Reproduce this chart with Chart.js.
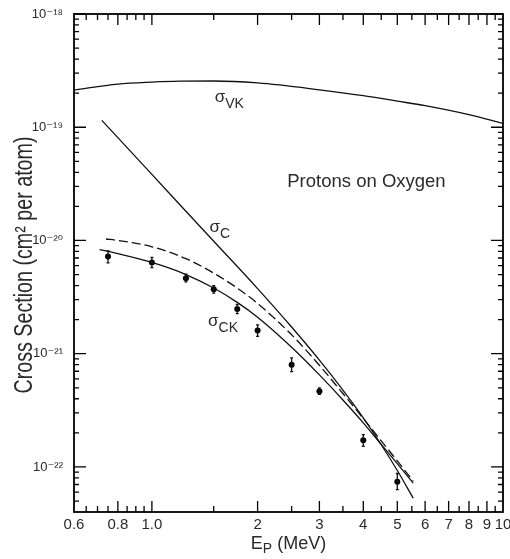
<!DOCTYPE html>
<html><head><meta charset="utf-8">
<script src="https://cdn.jsdelivr.net/npm/chart.js@4.4.0/dist/chart.umd.min.js"></script>
<style>html,body{margin:0;padding:0;background:#fff;}canvas{display:block;}</style>
</head><body>
<canvas id="c" width="510" height="559"></canvas>
<script>
// ---- data ----
const vkE     = [0.6, 0.8, 1.0, 1.2, 1.5, 2.0, 3.0, 4.0, 5.0, 6.0, 8.0, 10];
const vkSigma = [2.13e-19, 2.40e-19, 2.50e-19, 2.55e-19, 2.56e-19, 2.46e-19, 2.14e-19, 1.90e-19, 1.70e-19, 1.55e-19, 1.29e-19, 1.08e-19];

const cE      = [0.72, 0.8, 1.0, 1.25, 1.5, 2.0, 2.5, 3.0, 3.5, 4.0, 4.5, 5.0, 5.55];
const cSigma  = [1.15e-19, 8.09e-20, 3.83e-20, 1.81e-20, 9.84e-21, 3.76e-21, 1.72e-21, 8.77e-22, 4.77e-22, 2.71e-22, 1.57e-22, 9.3e-23, 5.3e-23];

const dashE     = [0.74, 0.8, 1.0, 1.25, 1.5, 1.75, 2.0, 2.5, 3.0, 3.5, 4.0, 4.5, 5.0, 5.55];
const dashSigma = [1.03e-20, 1.0e-20, 8.8e-21, 6.9e-21, 5.15e-21, 3.8e-21, 2.78e-21, 1.47e-21, 7.9e-22, 4.45e-22, 2.68e-22, 1.70e-22, 1.13e-22, 7.5e-23];

const ckE     = [0.71, 0.8, 1.0, 1.25, 1.5, 1.75, 2.0, 2.5, 3.0, 3.5, 4.0, 4.5, 5.0, 5.55];
const ckSigma = [8.3e-21, 7.64e-21, 6.39e-21, 5.0e-21, 3.8e-21, 2.84e-21, 2.1e-21, 1.14e-21, 6.5e-22, 3.9e-22, 2.45e-22, 1.58e-22, 1.07e-22, 7.2e-23];

const expE     = [0.75, 1.0, 1.25, 1.5, 1.75, 2.0, 2.5, 3.0, 4.0, 5.0];
const expSigma = [7.2e-21, 6.4e-21, 4.65e-21, 3.7e-21, 2.48e-21, 1.6e-21, 8.0e-22, 4.65e-22, 1.72e-22, 7.4e-23];
const expLow   = [6.35e-21, 5.75e-21, 4.3e-21, 3.43e-21, 2.26e-21, 1.42e-21, 6.95e-22, 4.37e-22, 1.52e-22, 6.3e-23];
const expHigh  = [8.1e-21, 7.1e-21, 5.05e-21, 4.0e-21, 2.72e-21, 1.8e-21, 9.2e-22, 5.0e-22, 1.93e-22, 8.75e-23];

const xLabelValues = [0.6, 0.8, 1.0, 2, 3, 4, 5, 6, 7, 8, 9, 10];
const xLabels      = ['0.6', '0.8', '1.0', '2', '3', '4', '5', '6', '7', '8', '9', '10'];
const xMajorTicks  = [0.8, 1.0, 2, 3, 4, 5, 6, 7, 8, 9];
const xMinorTicks  = [0.65, 0.7, 0.75, 0.85, 0.9, 0.95, 1.5, 2.5, 3.5, 4.5, 5.5, 6.5, 7.5, 8.5, 9.5];
const yLabelValues = [1e-22, 1e-21, 1e-20, 1e-19, 1e-18];
const yLabels      = ['10\u207B\u00B2\u00B2', '10\u207B\u00B2\u00B9', '10\u207B\u00B2\u2070', '10\u207B\u00B9\u2079', '10\u207B\u00B9\u2078'];
const yMinorMult   = [2, 3, 4, 5, 6, 7, 8, 9];

const annoSub   = ['VK', 'C', 'CK'];
const annoE     = [1.51, 1.46, 1.445];
const annoSigma = [1.68e-19, 1.18e-20, 1.75e-21];
const noteText  = 'Protons on Oxygen';
const noteE = 2.43, noteSigma = 2.94e-20;
const yTitle = 'Cross Section (cm\u00B2 per atom)';

const INK = '#111', TEXT = '#2a2a2a';
const zip = (a, b) => a.map((v, i) => ({x: v, y: b[i]}));

const framePlugin = {
  id: 'frame',
  afterDatasetsDraw(chart) {
    const {ctx, chartArea: a, scales: {x, y}} = chart;
    ctx.save();
    ctx.strokeStyle = INK; ctx.lineWidth = 1.3;
    expE.forEach((e, i) => {
      const px = x.getPixelForValue(e);
      const p1 = y.getPixelForValue(expLow[i]), p2 = y.getPixelForValue(expHigh[i]);
      ctx.beginPath();
      ctx.moveTo(px, p1); ctx.lineTo(px, p2);
      ctx.moveTo(px - 1.5, p1); ctx.lineTo(px + 1.5, p1);
      ctx.moveTo(px - 1.5, p2); ctx.lineTo(px + 1.5, p2);
      ctx.stroke();
    });
    ctx.lineWidth = 1.8; ctx.strokeStyle = '#000';
    ctx.strokeRect(a.left, a.top, a.right - a.left, a.bottom - a.top);
    ctx.lineWidth = 1.3;
    ctx.beginPath();
    const xt = (v, len) => { const p = x.getPixelForValue(v);
      ctx.moveTo(p, a.bottom); ctx.lineTo(p, a.bottom - len);
      ctx.moveTo(p, a.top); ctx.lineTo(p, a.top + len); };
    xMajorTicks.forEach(v => xt(v, 11));
    xMinorTicks.forEach(v => xt(v, 6));
    const yt = (v, len) => { const p = y.getPixelForValue(v);
      ctx.moveTo(a.left, p); ctx.lineTo(a.left + len, p);
      ctx.moveTo(a.right, p); ctx.lineTo(a.right - len, p); };
    yLabelValues.forEach(v => yt(v, 12));
    [1e-23, ...yLabelValues].forEach(d => yMinorMult.forEach(m => {
      const v = d * m; if (v > y.min && v < y.max) yt(v, 5);
    }));
    ctx.stroke();
    ctx.restore();
  },
  afterDraw(chart) {
    const {ctx, chartArea: a, scales: {x, y}} = chart;
    ctx.save();
    ctx.fillStyle = TEXT; ctx.textAlign = 'left'; ctx.textBaseline = 'alphabetic';
    annoSub.forEach((s, i) => {
      const px = x.getPixelForValue(annoE[i]), py = y.getPixelForValue(annoSigma[i]);
      ctx.font = '17px "Liberation Sans", Arial, sans-serif';
      ctx.fillText('\u03C3', px, py);
      const w = ctx.measureText('\u03C3').width;
      ctx.font = '14px "Liberation Sans", Arial, sans-serif';
      ctx.fillText(s, px + w, py + 6);
    });
    ctx.font = '18.5px "Liberation Sans", Arial, sans-serif';
    ctx.fillText(noteText, x.getPixelForValue(noteE), y.getPixelForValue(noteSigma));
    const f1 = '18px "Liberation Sans", Arial, sans-serif', f2 = '14px "Liberation Sans", Arial, sans-serif';
    ctx.font = f1; const wE = ctx.measureText('E').width; const wM = ctx.measureText(' (MeV)').width;
    ctx.font = f2; const wP = ctx.measureText('P').width;
    const cx = (a.left + a.right) / 2, by = a.bottom + 37;
    let sx = cx - (wE + wP + wM) / 2;
    ctx.font = f1; ctx.fillText('E', sx, by);
    ctx.font = f2; ctx.fillText('P', sx + wE, by + 4);
    ctx.font = f1; ctx.fillText(' (MeV)', sx + wE + wP, by);
    ctx.font = '26px "Liberation Sans", Arial, sans-serif';
    const tw = ctx.measureText(yTitle).width;
    ctx.translate(a.left - 42, (a.top + a.bottom) / 2 + 2);
    ctx.rotate(-Math.PI / 2);
    ctx.scale(257 / tw, 1);
    ctx.textAlign = 'center';
    ctx.fillText(yTitle, 0, 0);
    ctx.restore();
  }
};

const lineStyle = {showLine: true, borderColor: INK, borderWidth: 1.3, pointRadius: 0, cubicInterpolationMode: 'monotone'};

new Chart(document.getElementById('c'), {
  type: 'scatter',
  data: {
    datasets: [
      {...lineStyle, data: zip(vkE, vkSigma)},
      {...lineStyle, data: zip(cE, cSigma)},
      {...lineStyle, data: zip(dashE, dashSigma), borderDash: [9, 4]},
      {...lineStyle, data: zip(ckE, ckSigma)},
      {data: zip(expE, expSigma), showLine: false, pointRadius: 3, pointBackgroundColor: '#000', pointBorderColor: '#000', pointBorderWidth: 0}
    ]
  },
  options: {
    responsive: false, animation: false, devicePixelRatio: 1,
    layout: {padding: {top: 14, right: 7, left: 0, bottom: 0}},
    plugins: {legend: {display: false}, tooltip: {enabled: false}},
    scales: {
      x: {
        type: 'logarithmic', min: 0.6, max: 10,
        grid: {display: false, drawTicks: false}, border: {display: false},
        afterBuildTicks: s => { s.ticks = xLabelValues.map(v => ({value: v})); },
        afterFit: s => { s.height = 47; s.paddingLeft = 0; s.paddingRight = 0; },
        ticks: {autoSkip: false, maxRotation: 0, padding: 4, color: TEXT,
          font: {family: '"Liberation Sans", Arial, sans-serif', size: 15},
          callback: (v, i) => xLabels[i]}
      },
      y: {
        type: 'logarithmic', min: 4e-23, max: 1e-18,
        grid: {display: false, drawTicks: false}, border: {display: false},
        afterBuildTicks: s => { s.ticks = yLabelValues.map(v => ({value: v})); },
        afterFit: s => { s.width = 74; s.paddingTop = 0; s.paddingBottom = 0; },
        ticks: {autoSkip: false, padding: 11, color: TEXT,
          font: {family: '"Liberation Sans", "DejaVu Sans", sans-serif', size: 13},
          callback: (v, i) => yLabels[i]}
      }
    }
  },
  plugins: [framePlugin]
});
</script></body></html>
